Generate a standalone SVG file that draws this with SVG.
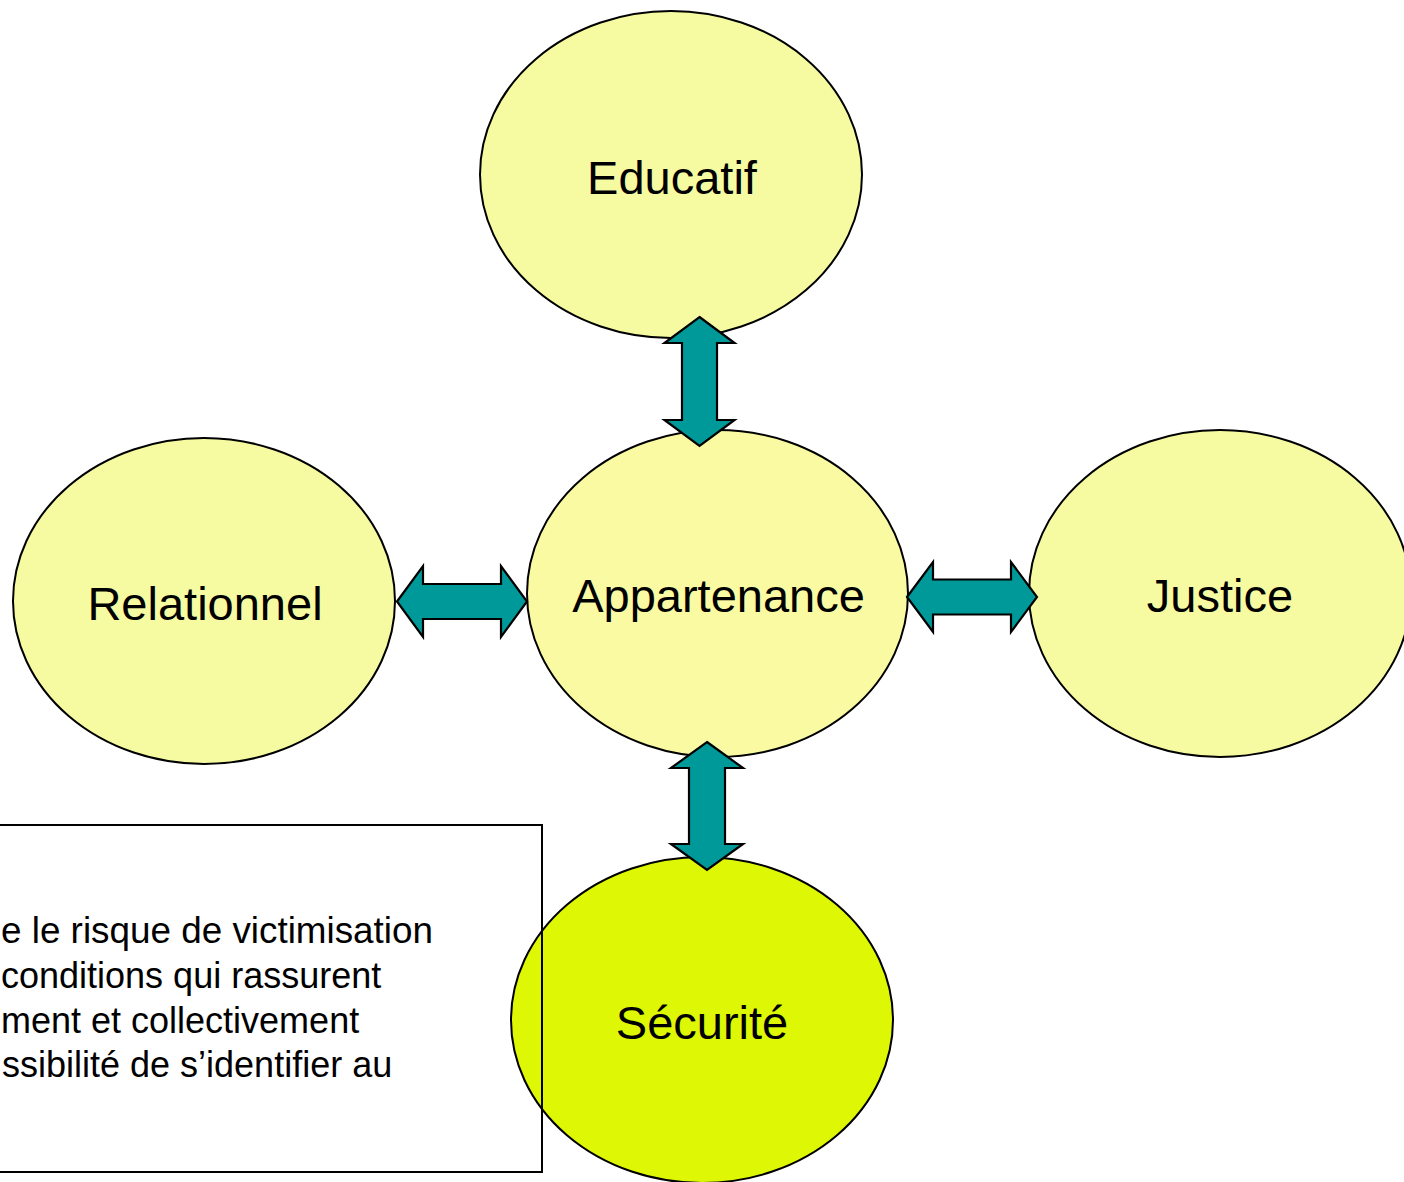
<svg xmlns="http://www.w3.org/2000/svg" width="1404" height="1182" viewBox="0 0 1404 1182">
  <style>
    .node { stroke: #000; stroke-width: 2; }
    .pale { fill: #F6FBA2; }
    .center { fill: #FAFAA3; }
    .bright { fill: #DEF705; }
    .label { font-family: "Liberation Sans", Arial, sans-serif; font-size: 47px; fill: #000; text-anchor: middle; }
    .arrow { fill: #009999; stroke: #000; stroke-width: 2.2; stroke-linejoin: miter; }
    .note { font-family: "Liberation Sans", Arial, sans-serif; font-size: 36px; fill: #000; }
  </style>
  <rect width="1404" height="1182" fill="#FFFFFF"/>

  <g id="educatif">
    <ellipse class="node pale" cx="671" cy="174.5" rx="191" ry="163.5"/>
    <text class="label" x="672" y="194">Educatif</text>
  </g>
  <g id="appartenance">
    <ellipse class="node center" cx="717.5" cy="593.5" rx="190.5" ry="163.5"/>
    <text class="label" x="718.5" y="612">Appartenance</text>
  </g>
  <g id="relationnel">
    <ellipse class="node pale" cx="204" cy="601" rx="191" ry="163"/>
    <text class="label" x="205" y="620">Relationnel</text>
  </g>
  <g id="justice">
    <ellipse class="node pale" cx="1220" cy="593.5" rx="191" ry="163.5"/>
    <text class="label" x="1220" y="612">Justice</text>
  </g>
  <g id="securite">
    <ellipse class="node bright" cx="702" cy="1020" rx="191" ry="163"/>
    <text class="label" x="702" y="1039">Sécurité</text>
  </g>

  <g id="connectors">
    <path class="arrow" d="M699.5,317 L734.5,343 L717,343 L717,420 L734.5,420 L699.5,446 L664.5,420 L682,420 L682,343 L664.5,343 Z"/>
    <path class="arrow" d="M707,742 L743,768 L725,768 L725,844 L743,844 L707,870 L671,844 L689,844 L689,768 L671,768 Z"/>
    <path class="arrow" d="M397,601.5 L423,566 L423,584 L501,584 L501,566 L527,601.5 L501,637 L501,619 L423,619 L423,637 Z"/>
    <path class="arrow" d="M907,597 L933,562 L933,579.5 L1011,579.5 L1011,562 L1037,597 L1011,632 L1011,614.5 L933,614.5 L933,632 Z"/>
  </g>

  <g id="note">
    <rect x="-10" y="825" width="552" height="347" fill="none" stroke="#000" stroke-width="2"/>
    <text class="note" x="1" y="943" textLength="432" lengthAdjust="spacingAndGlyphs">e le risque de victimisation</text>
    <text class="note" x="1" y="988">conditions qui rassurent</text>
    <text class="note" x="1" y="1033">ment et collectivement</text>
    <text class="note" x="2" y="1077">ssibilité de s’identifier au</text>
  </g>
</svg>
